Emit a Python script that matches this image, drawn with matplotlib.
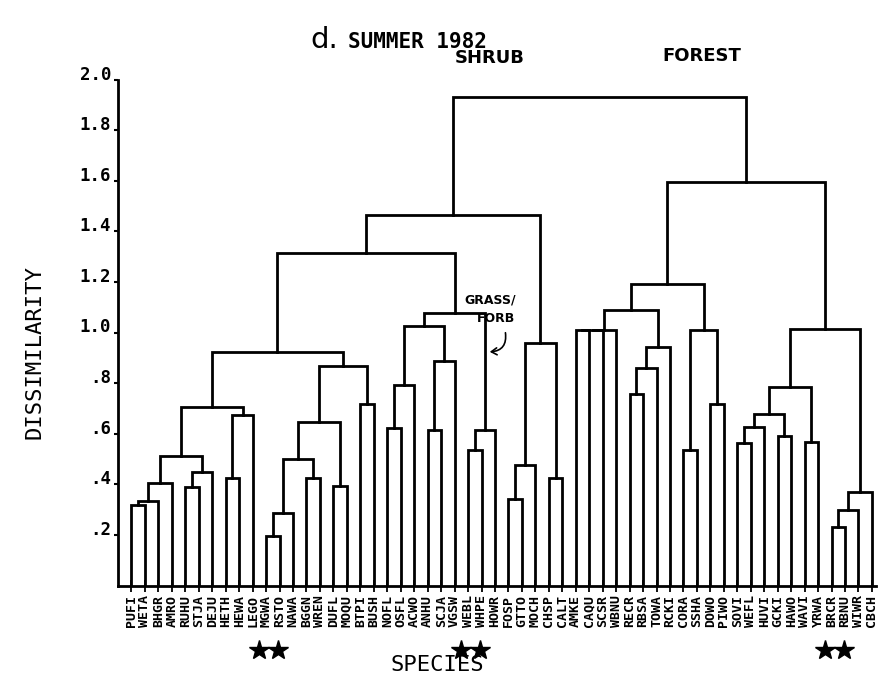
import matplotlib
matplotlib.use("Agg")
import matplotlib.pyplot as plt
from matplotlib.transforms import blended_transform_factory

# ---------------- data ----------------
species = ["PUFI", "WETA", "BHGR", "AMRO", "RUHU", "STJA", "DEJU", "HETH", "HEWA", "LEGO",
           "MGWA", "RSTO", "NAWA", "BGGN", "WREN", "DUFL", "MOQU", "BTPI", "BUSH", "NOFL",
           "OSFL", "ACWO", "ANHU", "SCJA", "VGSW", "WEBL", "WHPE", "HOWR", "FOSP", "GTTO",
           "MOCH", "CHSP", "CALT", "AMKE", "CAQU", "SCSR", "WBNU", "RECR", "RBSA", "TOWA",
           "RCKI", "CORA", "SSHA", "DOWO", "PIWO", "SOVI", "WEFL", "HUVI", "GCKI", "HAWO",
           "WAVI", "YRWA", "BRCR", "RBNU", "WIWR", "CBCH"]

# linkage: cluster ids >= len(species) refer to earlier merges (in order)
merge_left = [0, 56, 57, 4, 59, 58, 7, 62, 61,
              10, 65, 13, 66, 15, 68, 17, 70, 64,
              19, 74, 22, 76, 75, 25, 79, 78, 73,
              28, 83, 31, 84, 82,
              33, 88, 89, 37, 91, 92, 90, 41, 43, 95, 94,
              45, 99, 48, 100, 50, 102, 52, 105, 106, 104, 98, 87]
merge_right = [1, 2, 3, 5, 6, 60, 8, 9, 63,
               11, 12, 14, 67, 16, 69, 18, 71, 72,
               20, 21, 23, 24, 77, 26, 27, 80, 81,
               29, 30, 32, 85, 86,
               34, 35, 36, 38, 39, 40, 93, 42, 44, 96, 97,
               46, 47, 49, 101, 51, 103, 53, 54, 55, 107, 108, 109]
merge_height = [0.318, 0.335, 0.405, 0.389, 0.450, 0.512, 0.425, 0.674, 0.707,
                0.196, 0.288, 0.426, 0.500, 0.393, 0.647, 0.717, 0.868, 0.924,
                0.624, 0.792, 0.615, 0.887, 1.026, 0.536, 0.615, 1.078, 1.314,
                0.342, 0.476, 0.425, 0.960, 1.464,
                1.010, 1.010, 1.010, 0.757, 0.858, 0.944, 1.089, 0.536, 0.717, 1.010, 1.190,
                0.564, 0.625, 0.591, 0.678, 0.568, 0.786, 0.231, 0.298, 0.371, 1.015, 1.595, 1.930]

starred = ["MGWA", "RSTO", "WEBL", "WHPE", "BRCR", "RBNU"]

ytick_values = [0.2, 0.4, 0.6, 0.8, 1.0, 1.2, 1.4, 1.6, 1.8, 2.0]
ytick_labels = [".2", ".4", ".6", ".8", "1.0", "1.2", "1.4", "1.6", "1.8", "2.0"]

# ---------------- figure ----------------
W, H = 882, 680
fig = plt.figure(figsize=(W / 100, H / 100), dpi=100)
fig.patch.set_facecolor("white")


def fx(px):
    return px / W


def fy(py):
    return 1 - py / H


ax = fig.add_axes([fx(118), fy(585.5), (876 - 118) / W, 506 / H])
ax.set_xlim(-1.0, 55.3)
ax.set_ylim(0, 2.0)

mono = "DejaVu Sans Mono"
n = len(species)
xpos = {i: float(i) for i in range(n)}
ypos = {i: 0.0 for i in range(n)}
for k, (a, b, h) in enumerate(zip(merge_left, merge_right, merge_height)):
    xa, xb = xpos[a], xpos[b]
    ya, yb = ypos[a], ypos[b]
    ax.plot([xa, xa, xb, xb], [ya, h, h, yb], color="black", lw=2.0,
            solid_joinstyle="miter", solid_capstyle="projecting", zorder=3)
    xpos[n + k] = (xa + xb) / 2
    ypos[n + k] = h

for s in ["top", "right"]:
    ax.spines[s].set_visible(False)
for s in ["left", "bottom"]:
    ax.spines[s].set_linewidth(2.0)
    ax.spines[s].set_color("black")

ax.set_yticks(ytick_values)
ax.set_yticklabels(ytick_labels, fontfamily=mono, fontweight="bold", fontsize=12.5)
for t in ax.get_yticklabels():
    t.set_verticalalignment("baseline")
ax.tick_params(axis="y", direction="out", length=3, width=1.5, pad=2)

ax.set_xticks(range(n))
ax.set_xticklabels(species, rotation=90, fontfamily=mono, fontweight="bold", fontsize=9.5)
ax.tick_params(axis="x", direction="inout", length=8, width=1.3, pad=3)

# stars under selected species (pairs)
trans = blended_transform_factory(ax.transData, fig.transFigure)
for j, name in enumerate(starred):
    i = species.index(name)
    off = -0.5 if j % 2 == 0 else -0.1
    ax.plot([i + off], [fy(650)], marker="*", ms=15, color="black",
            transform=trans, clip_on=False)

# texts
fig.text(fx(437), fy(665), "SPECIES", ha="center", va="center",
         fontfamily=mono, fontsize=16)
fig.text(fx(35), fy(352), "DISSIMILARITY", ha="center", va="center", rotation=90,
         fontfamily=mono, fontsize=16)
fig.text(fx(324), fy(40), "d.", ha="center", va="center",
         fontfamily="DejaVu Sans", fontsize=21)
fig.text(fx(417), fy(42), "SUMMER 1982", ha="center", va="center",
         fontfamily=mono, fontweight="bold", fontsize=15)
fig.text(fx(490), fy(58), "SHRUB", ha="center", va="center",
         fontfamily="Liberation Sans Narrow", fontweight="bold", fontsize=13)
fig.text(fx(702), fy(56), "FOREST", ha="center", va="center",
         fontfamily="Liberation Sans Narrow", fontweight="bold", fontsize=13)
fig.text(fx(490), fy(300), "GRASS/", ha="center", va="center",
         fontfamily="Liberation Sans Narrow", fontweight="bold", fontsize=9)
fig.text(fx(496), fy(318), "FORB", ha="center", va="center",
         fontfamily="Liberation Sans Narrow", fontweight="bold", fontsize=9)
fig.patches.append(matplotlib.patches.FancyArrowPatch(
    (fx(505), fy(330)), (fx(487), fy(352)), transform=fig.transFigure,
    arrowstyle="->,head_length=4,head_width=2.5", connectionstyle="arc3,rad=-0.6",
    color="black", lw=1.2, mutation_scale=1))

fig.savefig("out.png", dpi=100, facecolor="white")
